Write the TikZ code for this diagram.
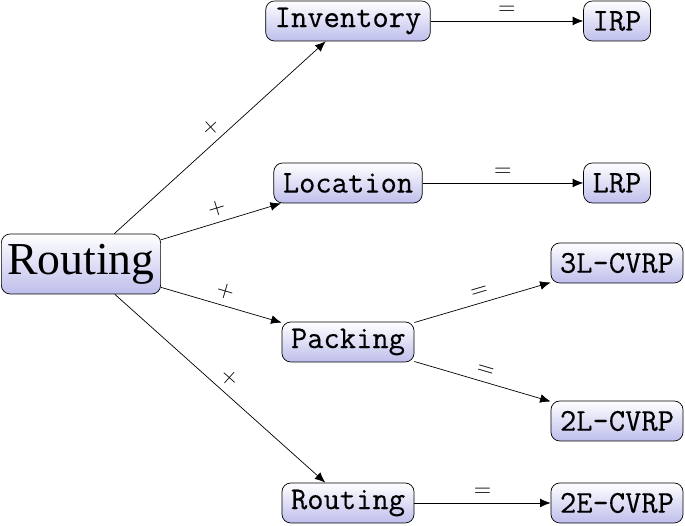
\documentclass[tikz,border=0pt]{standalone}
\usepackage{fontspec}
\setmainfont{Liberation Serif}
\setmonofont{Latin Modern Mono}[FakeBold=0.3]
\usepackage{tikz}
\usetikzlibrary{arrows.meta,positioning}
\usepackage{xcolor}
\definecolor{boxtop}{RGB}{255,255,255}
\definecolor{boxbot}{RGB}{190,190,236}

\begin{document}
\begin{tikzpicture}[
  every node/.style={font=\ttfamily\fontsize{18}{21}\selectfont},
  box/.style={draw, rounded corners=5pt, top color=boxtop, bottom color=boxbot,
              minimum height=0.8cm, inner xsep=0.18cm, inner ysep=0pt},
  root/.style={box, font=\rmfamily\fontsize{26}{28}\selectfont, minimum height=1.2cm,
               inner xsep=0.12cm},
  rel/.style={-{Latex[length=6pt,width=5pt]}, thin},
  op/.style={font=\sffamily\fontsize{13}{15}\selectfont, sloped, above, inner sep=3.5pt}
]
\useasboundingbox (0,0) rectangle (13.7,-10.52);

\node[root] (route) at (1.62,-5.28)  {Routing};
\node[box]  (inv)   at (6.96,-0.42)  {Inventory};
\node[box]  (loc)   at (6.96,-3.66)  {Location};
\node[box]  (pack)  at (6.96,-6.84)  {Packing};
\node[box]  (rout)  at (6.96,-10.06) {Routing};
\node[box]  (irp)   at (12.34,-0.42) {IRP};
\node[box]  (lrp)   at (12.34,-3.66) {LRP};
\node[box]  (cvtl)  at (12.34,-5.26) {3L-CVRP};
\node[box]  (cvtw)  at (12.34,-8.42) {2L-CVRP};
\node[box]  (cvte)  at (12.34,-10.06) {2E-CVRP};

\foreach \dst in {inv, loc, pack, rout}
  \draw[rel] (route) -- node[op]{+} (\dst);

\foreach \src/\dst in {inv/irp, loc/lrp, pack/cvtl, pack/cvtw, rout/cvte}
  \draw[rel] (\src) -- node[op]{=} (\dst);

\end{tikzpicture}
\end{document}
